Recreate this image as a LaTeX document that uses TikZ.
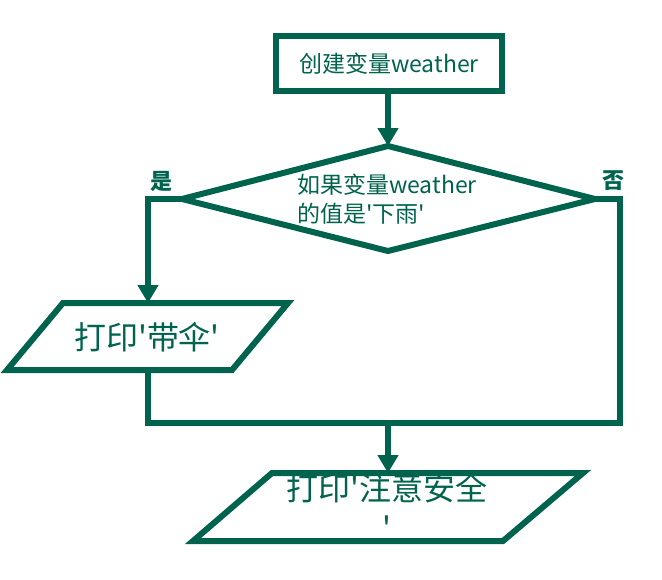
\documentclass[tikz,border=0pt]{standalone}
\usepackage{fontspec}
\setmainfont{Noto Sans CJK SC}[Ligatures=TeXOff]
\usetikzlibrary{arrows.meta}
\definecolor{fc}{RGB}{0,99,78}
\begin{document}
\begin{tikzpicture}[x=1pt,y=-1pt,line width=6pt,draw=fc,text=fc,
  flow/.style={draw=fc,line width=6pt,line join=miter},
  arr/.style={flow,-{Triangle[length=18pt,width=20pt]}},
  procbox/.style={draw=fc,line width=6pt,minimum width=226pt,minimum height=55pt,inner sep=0pt,font=\fontsize{23}{28}\selectfont},
  condtext/.style={inner sep=0pt,align=left,font=\fontsize{23}{28.5}\selectfont},
  iotext/.style={inner sep=0pt,align=center,font=\fontsize{32}{40}\selectfont},
  lbl/.style={inner sep=0pt,font=\fontsize{22}{26}\selectfont\bfseries}]
\useasboundingbox (0,0) rectangle (662,579);
% start box
\node[procbox] (start) at (389,63.5) {创建变量weather};
% diamond
\coordinate (dT) at (388,146);
\coordinate (dL) at (182,199);
\coordinate (dR) at (595,199);
\coordinate (dB) at (388,251);
\draw[flow] (dT) -- (dR) -- (dB) -- (dL) -- cycle;
\node[condtext] (cond) at (387,199) {如果变量weather\\的值是'下雨'};
% left parallelogram
\draw[flow] (63,303) -- (288,303) -- (232,370) -- (7,370) -- cycle;
\node[iotext] (yes) at (147,337) {打印'带伞'};
\coordinate (p1top) at (148,303);
\coordinate (p1bot) at (148,370);
% bottom parallelogram
\draw[flow] (272,473) -- (583,473) -- (503,541) -- (193,541) -- cycle;
\node[iotext] (safe) at (387,507) {打印'注意安全\\'};
\coordinate (p2top) at (388,473);
% merge points
\coordinate (mR) at (620,423);
\coordinate (mL) at (148,423);
\coordinate (mM) at (388,423);
% connectors
\draw[arr] (start.south -| dT) -- (dT);
\draw[arr] (dL) -| (p1top);
\draw[flow] (dR) -| (mR) -- (mL) -- (p1bot);
\draw[arr] (mM) -- (p2top);
% labels
\node[lbl] (lyes) at (161.5,181) {是};
\node[lbl] (lno) at (613,181) {否};
\end{tikzpicture}
\end{document}
